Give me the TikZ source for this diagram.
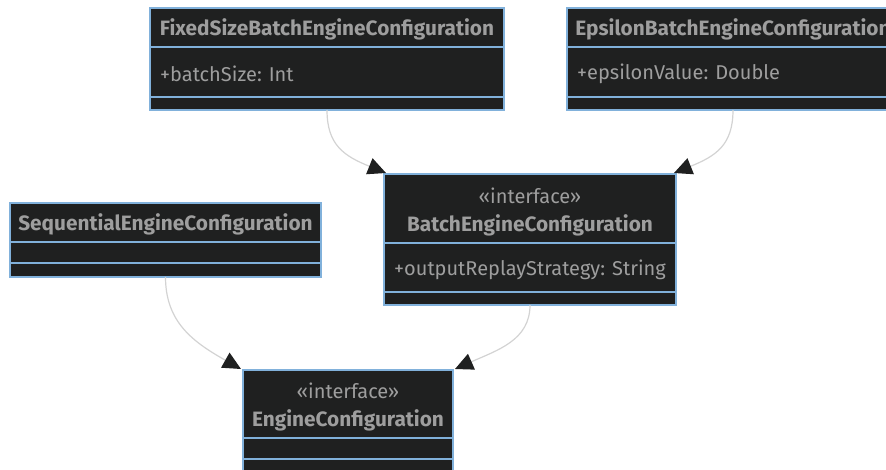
\documentclass[tikz,border=0pt]{standalone}
\usepackage{fontspec}
\setmainfont{Fira Sans}
\usetikzlibrary{arrows.meta,calc}
\definecolor{boxfill}{HTML}{1F2020}
\definecolor{boxline}{HTML}{81B1DB}
\definecolor{txt}{HTML}{9E9E9E}
\definecolor{edge}{HTML}{D3D3D3}
\tikzset{
  classbox/.style={draw=boxline, fill=boxfill, line width=1.2pt, anchor=north west,
    inner sep=0pt, outer sep=0pt},
  divider/.style={draw=boxline, line width=1.2pt},
  title/.style={text=txt, font=\fontsize{20.8}{24}\selectfont\bfseries, inner sep=0pt},
  stereo/.style={text=txt, font=\fontsize{20}{24}\selectfont, inner sep=0pt},
  member/.style={text=txt, font=\fontsize{20}{24}\selectfont, inner sep=0pt, anchor=west},
  inherit/.style={draw=edge, line width=1.2pt,
    -{Triangle[length=18pt,width=17pt,color=boxfill]}},
}
\begin{document}
\begin{tikzpicture}[x=1pt,y=-1pt]
\useasboundingbox (0,0) rectangle (886,470);
\clip (0,0) rectangle (886,470);

% FixedSizeBatchEngineConfiguration
\node[classbox, minimum width=354pt, minimum height=102pt] (fixed) at (150,8) {};
\draw[divider] ($(fixed.north west)+(0,39)$) -- ($(fixed.north east)+(0,39)$);
\draw[divider] ($(fixed.north west)+(0,89)$) -- ($(fixed.north east)+(0,89)$);
\node[title] (fixedname) at ($(fixed.north)+(0,21)$) {FixedSizeBatchEngineConfiguration};
\node[member] (fixedattr) at ($(fixed.north west)+(10,66)$) {+batchSize: Int};

% EpsilonBatchEngineConfiguration
\node[classbox, minimum width=332pt, minimum height=102pt] (eps) at (567,8) {};
\draw[divider] ($(eps.north west)+(0,39)$) -- ($(eps.north east)+(0,39)$);
\draw[divider] ($(eps.north west)+(0,89)$) -- ($(eps.north east)+(0,89)$);
\node[title] (epsname) at ($(eps.north)+(0,21)$) {EpsilonBatchEngineConfiguration};
\node[member] (epsattr) at ($(eps.north west)+(10,66)$) {+epsilonValue: Double};

% SequentialEngineConfiguration
\node[classbox, minimum width=311pt, minimum height=74pt] (seq) at (10,203) {};
\draw[divider] ($(seq.north west)+(0,39)$) -- ($(seq.north east)+(0,39)$);
\draw[divider] ($(seq.north west)+(0,60)$) -- ($(seq.north east)+(0,60)$);
\node[title] (seqname) at ($(seq.north)+(0,21)$) {SequentialEngineConfiguration};

% BatchEngineConfiguration
\node[classbox, minimum width=292pt, minimum height=131pt] (batch) at (384,174) {};
\draw[divider] ($(batch.north west)+(0,69)$) -- ($(batch.north east)+(0,69)$);
\draw[divider] ($(batch.north west)+(0,118)$) -- ($(batch.north east)+(0,118)$);
\node[stereo] (batchster) at ($(batch.north)+(0,22)$) {«interface»};
\node[title] (batchname) at ($(batch.north)+(0,51)$) {BatchEngineConfiguration};
\node[member] (batchattr) at ($(batch.north west)+(10,96)$) {+outputReplayStrategy: String};

% EngineConfiguration
\node[classbox, minimum width=210pt, minimum height=110pt] (engine) at (243,370) {};
\draw[divider] ($(engine.north west)+(0,68)$) -- ($(engine.north east)+(0,68)$);
\draw[divider] ($(engine.north west)+(0,89)$) -- ($(engine.north east)+(0,89)$);
\node[stereo] (engster) at ($(engine.north)+(0,21)$) {«interface»};
\node[title] (engname) at ($(engine.north)+(0,50)$) {EngineConfiguration};

% Inheritance connectors
\draw[inherit] (fixed.south) .. controls ($(fixed.south)+(0,35)$) and ($(batch.north west)+(-40,-18)$) .. ($(batch.north west)+(2,-1)$);
\draw[inherit] (eps.south) .. controls ($(eps.south)+(0,35)$) and ($(batch.north east)+(40,-18)$) .. ($(batch.north east)+(-2,-1)$);
\draw[inherit] (seq.south) .. controls ($(seq.south)+(0,45)$) and ($(engine.north west)+(-50,-28)$) .. ($(engine.north west)+(-2,-1)$);
\draw[inherit] (batch.south) .. controls ($(batch.south)+(0,35)$) and ($(engine.north east)+(45,-20)$) .. ($(engine.north east)+(2,-1)$);
\end{tikzpicture}
\end{document}
